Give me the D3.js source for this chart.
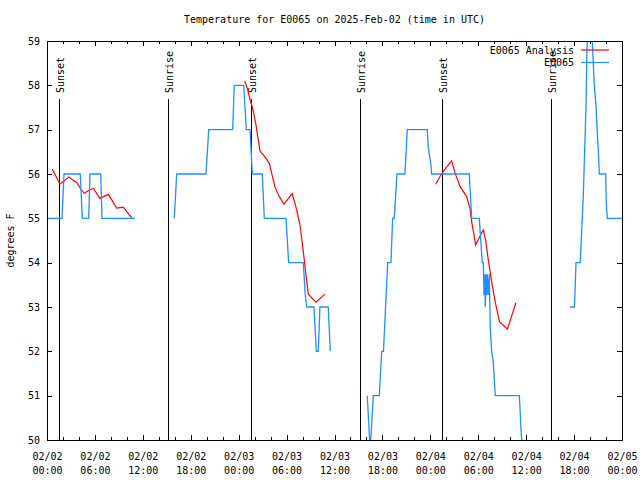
<!DOCTYPE html>
<html><head><meta charset="utf-8">
<script src="https://cdn.jsdelivr.net/npm/d3@7"></script>
<style>body{margin:0;background:#fff}</style>
</head><body>
<svg id="c" width="640" height="480"></svg>
<script>
// ---- data (hours since 2025-02-02 00:00 UTC, temperatures in degrees F; null = gap)
const obsHours = [0,1.88,2.13,4.17,4.42,5.22,5.38,6.72,6.89,10.98,null,
  15.94,16.24,19.91,20.25,23.25,23.45,24.63,24.96,25.42,25.71,26.96,27.21,29.93,30.26,32.09,32.34,32.52,33.43,33.72,33.97,34.18,35.22,35.47,null,
  40.10,40.40,40.47,40.54,40.86,41.61,41.91,42.13,42.66,43.07,43.28,43.49,43.82,44.82,45.11,47.62,47.74,48.08,48.17,52.88,53.18,54.13,54.50,54.63,54.72,54.80,54.88,54.97,55.05,55.13,55.26,55.38,55.49,55.68,55.88,56.13,59.14,59.22,59.35,59.44,59.54,null,
  65.49,66.05,66.24,66.77,67.15,67.27,67.49,67.61,67.74,67.93,68.28,68.53,68.74,68.87,69.03,69.16,69.96,70.03,70.16,72];
const obsTemps = [55,55,56,56,55,55,56,56,55,55,null,
  55,56,56,57,57,58,58,57,57,56,56,55,55,54,54,53.28,53,53,52,52,53,53,52,null,
  51,50,49.7,50,51,51,52,52,54,54,55,55,56,56,57,57,56.6,56.2,56,56,55,55,54,54,53.27,53.74,53.0,53.74,53.27,53.74,53.27,53.74,52.6,52.0,51.77,51.0,51,50.75,50.26,50,49.7,null,
  53,53,54,54,55.5,56.2,57.5,58.8,59.5,60.1,59,58.0,57.55,57.05,56.53,56,56,55.35,55,55];
const anaHours = [0.66,1.63,2.75,3.29,3.72,4.13,4.67,5.30,5.80,6.64,7.68,8.73,9.55,10.73,null,
  24.75,25.08,25.42,25.76,26.17,26.46,26.67,27.08,27.51,27.83,28.13,28.55,28.96,29.67,30.71,31.26,31.68,31.89,32.22,32.43,32.72,33.68,34.81,null,
  48.67,49.42,50.67,51.09,51.75,52.55,52.96,53.18,53.68,54.13,54.63,54.93,55.26,55.66,56.16,56.66,57.66,58.72];
const anaTemps = [56.11,55.77,55.93,55.86,55.81,55.69,55.56,55.64,55.68,55.45,55.54,55.23,55.25,54.98,null,
  58.10,57.93,57.68,57.48,57.11,56.77,56.52,56.43,56.33,56.24,56.02,55.71,55.53,55.32,55.56,55.19,54.85,54.55,54.06,53.72,53.29,53.11,53.29,null,
  55.77,56.01,56.30,56.02,55.71,55.49,55.23,54.92,54.40,54.57,54.74,54.51,54.06,53.59,53.08,52.67,52.50,53.10];
const sunHours = [1.50,15.15,25.54,39.19,49.46,63.11];
const sunLabels = ["Sunset","Sunrise","Sunset","Sunrise","Sunset","Sunrise"];
const yTicks = [50,51,52,53,54,55,56,57,58,59];
const seriesNames = ["E0065 Analysis","E0065"];
const seriesColors = ["#ff0000","#1e90ff"];
const titleText = "Temperature for E0065 on 2025-Feb-02 (time in UTC)";
const yLabel = "degrees F";

// ---- layout
const FONT = "'DejaVu Sans Mono', monospace";
const L = 47, R = 622, T = 41, B = 440;
const base = Date.UTC(2025,1,2);
const toDate = h => new Date(base + h*3600e3);
const x = d3.scaleUtc().domain([toDate(0), toDate(72)]).range([L, R]);
const y = d3.scaleLinear().domain([50,59]).range([B, T]);
const svg = d3.select("#c");
svg.append("rect").attr("width",640).attr("height",480).attr("fill","#fff");

svg.append("defs").append("clipPath").attr("id","clip")
  .append("rect").attr("x",L).attr("y",T).attr("width",R-L).attr("height",B-T);

// title
svg.append("text").attr("x",(L+R)/2).attr("y",23).attr("text-anchor","middle")
  .attr("font-family",FONT).attr("font-size",10).text(titleText);
// y label
svg.append("text").attr("transform",`translate(14,${(T+B)/2}) rotate(-90)`)
  .attr("text-anchor","middle").attr("font-family",FONT).attr("font-size",10).text(yLabel);

const major = d3.utcHour.every(6).range(toDate(0), toDate(72.01));
const minor = d3.utcHour.every(2).range(toDate(0), toDate(72.01)).filter(d => d.getUTCHours()%6 !== 0);

function styleAxis(g){
  g.select(".domain").remove();
  g.attr("font-family",FONT).attr("font-size",10);
  g.selectAll("line").attr("stroke","#000").attr("shape-rendering","crispEdges");
  g.selectAll("text").attr("fill","#000");
}
// bottom major
const gxb = svg.append("g").attr("transform",`translate(0,${B})`)
  .call(d3.axisBottom(x).tickValues(major).tickSizeInner(-5).tickSizeOuter(0).tickPadding(11).tickFormat(d3.utcFormat("%m/%d")));
styleAxis(gxb);
gxb.selectAll(".tick text").each(function(d){
  const t = d3.select(this); t.text(null).attr("dy",null).attr("y",20);
  t.append("tspan").attr("x",0).attr("y",20).text(d3.utcFormat("%m/%d")(d));
  t.append("tspan").attr("x",0).attr("y",34).text(d3.utcFormat("%H:%M")(d));
});
// bottom minor
styleAxis(svg.append("g").attr("transform",`translate(0,${B})`)
  .call(d3.axisBottom(x).tickValues(minor).tickSizeInner(-3).tickSizeOuter(0).tickFormat("")));
// top major/minor
styleAxis(svg.append("g").attr("transform",`translate(0,${T})`)
  .call(d3.axisTop(x).tickValues(major).tickSizeInner(-5).tickSizeOuter(0).tickFormat("")));
styleAxis(svg.append("g").attr("transform",`translate(0,${T})`)
  .call(d3.axisTop(x).tickValues(minor).tickSizeInner(-3).tickSizeOuter(0).tickFormat("")));
// left/right
const gyl = svg.append("g").attr("transform",`translate(${L},0)`)
  .call(d3.axisLeft(y).tickValues(yTicks).tickSizeInner(-5).tickSizeOuter(0).tickPadding(7).tickFormat(d3.format("d")));
styleAxis(gyl);
styleAxis(svg.append("g").attr("transform",`translate(${R},0)`)
  .call(d3.axisRight(y).tickValues(yTicks).tickSizeInner(-5).tickSizeOuter(0).tickFormat("")));

// sun lines
const sun = svg.append("g");
sunHours.forEach((h,i) => {
  const sx = Math.round(x(toDate(h)));
  sun.append("line").attr("x1",sx).attr("x2",sx).attr("y1",99).attr("y2",B)
    .attr("stroke","#000").attr("stroke-width",1).attr("shape-rendering","crispEdges");
  sun.append("text").attr("transform",`translate(${sx+4.5},93) rotate(-90)`)
    .attr("font-family",FONT).attr("font-size",10).text(sunLabels[i]);
});

// series
const line = d3.line().defined(d => d.v != null).x(d => x(d.t)).y(d => y(d.v));
const ana = anaHours.map((h,i) => ({t: h==null?null:toDate(h), v: anaTemps[i]}));
const obs = obsHours.map((h,i) => ({t: h==null?null:toDate(h), v: obsTemps[i]}));
const plot = svg.append("g").attr("clip-path","url(#clip)");
plot.append("path").datum(ana).attr("d",line).attr("fill","none").attr("stroke",seriesColors[0]).attr("stroke-width",1.2);
plot.append("path").datum(obs).attr("d",line).attr("fill","none").attr("stroke",seriesColors[1]).attr("stroke-width",1.3);

// border
svg.append("rect").attr("x",L+0.5).attr("y",T+0.5).attr("width",R-L).attr("height",B-T)
  .attr("fill","none").attr("stroke","#000").attr("stroke-width",1);

// legend
const leg = svg.append("g");
seriesNames.forEach((n,i) => {
  const ly = 50 + i*12.5;
  leg.append("text").attr("x",574).attr("y",ly+3.5).attr("text-anchor","end")
    .attr("font-family",FONT).attr("font-size",10).text(n);
  leg.append("line").attr("x1",581).attr("x2",609).attr("y1",ly).attr("y2",ly)
    .attr("stroke",seriesColors[i]).attr("stroke-width",1.2);
});
</script>
</body></html>
